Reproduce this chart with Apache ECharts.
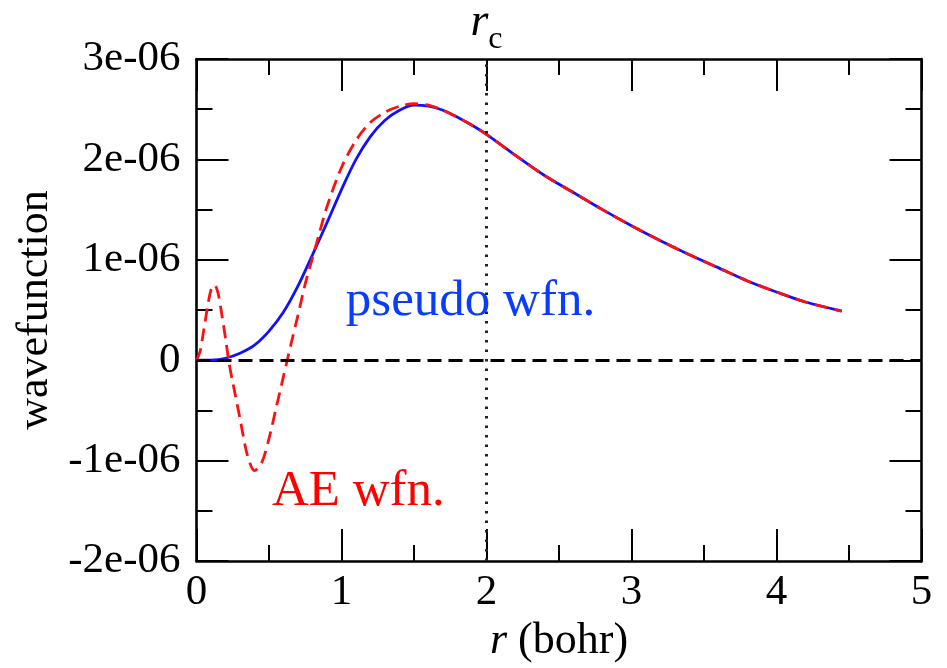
<!DOCTYPE html>
<html>
<head>
<meta charset="utf-8">
<script src="https://cdn.jsdelivr.net/npm/echarts@6/dist/echarts.min.js"></script>
<style>
html,body{margin:0;padding:0;background:#fff;}
#chart{width:947px;height:668px;}
</style>
</head>
<body>
<div id="chart"></div>
<script>
// ---- data (wavefunction values in units of 1e-6) ----
var pseudoX = [0,0.1,0.2,0.3,0.4,0.5,0.6,0.7,0.8,0.9,1.0,1.1,1.2,1.3,1.4,1.5,1.6,1.7,1.8,1.9,2.0,2.2,2.4,2.6,2.8,3.0,3.2,3.4,3.6,3.8,4.0,4.2,4.45];
var pseudoY = [0,0.002,0.02,0.07,0.15,0.29,0.48,0.74,1.05,1.37,1.70,2.00,2.23,2.39,2.49,2.54,2.53,2.49,2.42,2.34,2.25,2.04,1.84,1.67,1.50,1.34,1.19,1.05,0.92,0.79,0.68,0.58,0.49];
var aeX = [0,0.025,0.05,0.075,0.1,0.125,0.15,0.175,0.2,0.225,0.25,0.3,0.35,0.4,0.45,0.5,0.55,0.6,0.65,0.7,0.75,0.8,0.85,0.9,1.0,1.1,1.2,1.3,1.4,1.5,1.6,1.7,1.8,1.9,2.0,2.2,2.4,2.6,2.8,3.0,3.2,3.4,3.6,3.8,4.0,4.2,4.45];
var aeY = [0,0.09,0.30,0.52,0.70,0.75,0.66,0.45,0.22,-0.03,-0.22,-0.58,-0.94,-1.10,-1.02,-0.78,-0.47,-0.16,0.15,0.45,0.76,1.02,1.28,1.53,1.92,2.19,2.37,2.47,2.53,2.555,2.54,2.49,2.42,2.34,2.25,2.04,1.84,1.67,1.50,1.34,1.19,1.05,0.92,0.79,0.68,0.58,0.49];
var unit = 1e-6;
var rc = 2;
var xTicks = [0,1,2,3,4,5];
var yTickLabels = {'-2':'-2e-06','-1':'-1e-06','0':'0','1':'1e-06','2':'2e-06','3':'3e-06'};
var pseudoLabel = {text:'pseudo wfn.', x:1.03, y:0.58};
var aeLabel = {text:'AE wfn.', x:0.52, y:-1.31};

var FONT = 'Liberation Serif';
function pairs(xs, ys){ return xs.map(function(x,i){ return [x, ys[i]*unit]; }); }

var chart = echarts.init(document.getElementById('chart'), null, {renderer:'canvas'});

var axisLine = {show:true, onZero:false, lineStyle:{color:'#000', width:2.6}};
var xTick = {show:true, inside:true, length:32, lineStyle:{color:'#000', width:2}};
var xMinor = {show:true, splitNumber:2, length:16, lineStyle:{color:'#000', width:2}};

var option = {
  animation:false,
  backgroundColor:'#fff',
  grid:{left:196.5, right:25.5, top:55, bottom:102, containLabel:false},
  xAxis:[{
    type:'value', position:'bottom', min:0, max:5, interval:1,
    axisLine:axisLine, axisTick:xTick, minorTick:xMinor,
    splitLine:{show:false}, minorSplitLine:{show:false},
    axisLabel:{show:true, margin:10, color:'#000', fontFamily:FONT, fontSize:43,
      formatter:function(v){ return xTicks.indexOf(Math.round(v))>=0 ? String(Math.round(v)) : ''; }},
    name:'{i|r} (bohr)', nameLocation:'middle', nameGap:56,
    nameTextStyle:{color:'#000', fontFamily:FONT, fontSize:44,
      rich:{i:{fontStyle:'italic', fontFamily:FONT, fontSize:44, color:'#000'}}}
  },{
    type:'value', position:'top', min:0, max:5, interval:1,
    axisLine:axisLine, axisTick:xTick, minorTick:xMinor,
    splitLine:{show:false},
    axisLabel:{show:true, margin:3, color:'#000', fontFamily:FONT,
      formatter:function(v){ return Math.abs(v-rc)<1e-9 ? '{r|r}{c|c}' : ''; },
      rich:{
        r:{fontStyle:'italic', fontFamily:FONT, fontSize:46, color:'#000', verticalAlign:'bottom', padding:[0,0,10,0]},
        c:{fontFamily:FONT, fontSize:32, color:'#000', verticalAlign:'bottom'}
      }}
  }],
  yAxis:[{
    type:'value', position:'left', min:-2*unit, max:3*unit, interval:unit,
    axisLine:axisLine, axisTick:xTick, minorTick:xMinor,
    splitLine:{show:false}, minorSplitLine:{show:false},
    axisLabel:{show:true, margin:16, color:'#000', fontFamily:FONT, fontSize:43,
      formatter:function(v){ var k = String(Math.round(v/unit)); return yTickLabels[k]!==undefined ? yTickLabels[k] : ''; }},
    name:'wavefunction', nameLocation:'middle', nameGap:134, nameRotate:90,
    nameTextStyle:{color:'#000', fontFamily:FONT, fontSize:44}
  },{
    type:'value', position:'right', min:-2*unit, max:3*unit, interval:unit,
    axisLine:axisLine, axisTick:xTick, minorTick:xMinor,
    splitLine:{show:false}, axisLabel:{show:false}
  }],
  series:[{
    name:'pseudo wfn.', type:'line', xAxisIndex:0, yAxisIndex:0,
    data:pairs(pseudoX, pseudoY), smooth:0.3, showSymbol:false, symbol:'none',
    lineStyle:{color:'#1010ff', width:2.8, type:'solid'},
    markLine:{silent:true, symbol:['none','none'], label:{show:false},
      data:[{xAxis:rc}], lineStyle:{color:'#222', width:3, type:[2.5,7]}},
    markPoint:{silent:true, symbol:'circle', symbolSize:0,
      data:[{coord:[pseudoLabel.x, pseudoLabel.y*unit], value:pseudoLabel.text}],
      label:{show:true, position:'inside', align:'left', verticalAlign:'middle', formatter:pseudoLabel.text,
        color:'#0a3cff', fontFamily:FONT, fontSize:51}}
  },{
    name:'AE wfn.', type:'line', xAxisIndex:0, yAxisIndex:0,
    data:pairs(aeX, aeY), smooth:0.3, showSymbol:false, symbol:'none',
    lineStyle:{color:'#ff1010', width:2.8, type:[13,7]},
    markLine:{silent:true, symbol:['none','none'], label:{show:false},
      data:[{yAxis:0}], lineStyle:{color:'#000', width:2.8, type:[14,7]}},
    markPoint:{silent:true, symbol:'circle', symbolSize:0,
      data:[{coord:[aeLabel.x, aeLabel.y*unit], value:aeLabel.text}],
      label:{show:true, position:'inside', align:'left', verticalAlign:'middle', formatter:aeLabel.text,
        color:'#ff0000', fontFamily:FONT, fontSize:51}}
  }]
};
chart.setOption(option);
</script>
</body>
</html>
